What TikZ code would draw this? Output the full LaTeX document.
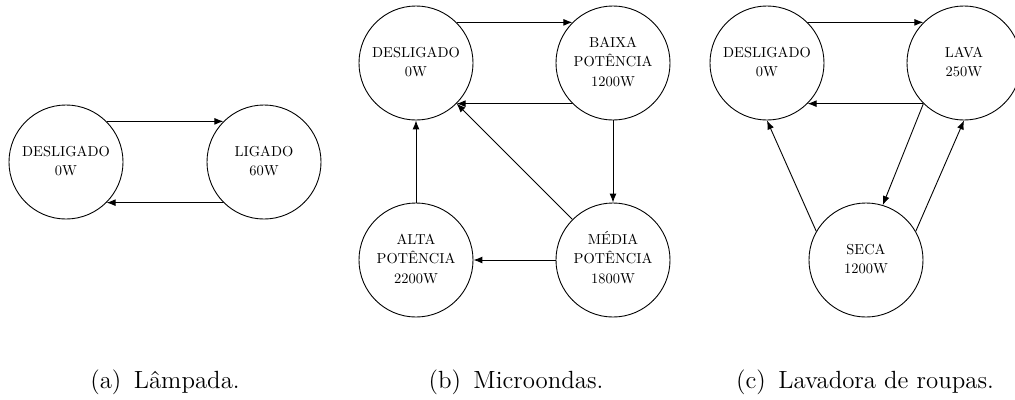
\documentclass[tikz,border=0pt]{standalone}
\usetikzlibrary{arrows.meta}
\newcommand{\stlines}[1]{\scalebox{0.645}{\fontsize{10}{13.8}\selectfont\begin{tabular}{@{}c@{}}#1\end{tabular}}}
\begin{document}
\begin{tikzpicture}[x=0.4464pt,y=-0.4464pt,>={Latex[length=4pt,width=3.1pt]},
  state/.style={circle,draw,minimum size=50.9pt,inner sep=0pt},
  caplabel/.style={font=\fontsize{11.1}{13}\selectfont,anchor=base},
  conn/.style={->}]
\clip (0,0) rectangle (1015,399);
% (a)
\node[state] (a1) at (66,162) {\stlines{DESLIGADO\\0W}};
\node[state] (a2) at (264,162) {\stlines{LIGADO\\60W}};
\draw[conn] (a1.45) -- (a2.135);
\draw[conn] (a2.-135) -- (a1.-45);
% (b)
\node[state] (b1) at (416,63) {\stlines{DESLIGADO\\0W}};
\node[state] (b2) at (613,63) {\stlines{BAIXA\\POTÊNCIA\\1200W}};
\node[state] (b3) at (613,260) {\stlines{MÉDIA\\POTÊNCIA\\1800W}};
\node[state] (b4) at (416,260) {\stlines{ALTA\\POTÊNCIA\\2200W}};
\draw[conn] (b1.45) -- (b2.135);
\draw[conn] (b2.-135) -- (b1.-45);
\draw[conn] (b2.south) -- (b3.north);
\draw[conn] (b3.west) -- (b4.east);
\draw[conn] (b4.north) -- (b1.south);
\draw[conn] (b3.135) -- (b1.-45);
% (c)
\node[state] (c1) at (767,63) {\stlines{DESLIGADO\\0W}};
\node[state] (c2) at (964,63) {\stlines{LAVA\\250W}};
\node[state] (c3) at (866,260) {\stlines{SECA\\1200W}};
\draw[conn] (c1.45) -- (c2.135);
\draw[conn] (c2.-135) -- (c1.-45);
\draw[conn] (c2.-135) -- (c3.73);
\draw[conn] (c3.30) -- (c2.south);
\draw[conn] (c3.150) -- (c1.south);
% captions
\node[caplabel] (ca) at (165,388) {(a)\hspace{0.5em}Lâmpada.};
\node[caplabel] (cb) at (516,388) {(b)\hspace{0.5em}Microondas.};
\node[caplabel] (cc) at (865,388) {(c)\hspace{0.5em}Lavadora de roupas.};
\end{tikzpicture}
\end{document}
